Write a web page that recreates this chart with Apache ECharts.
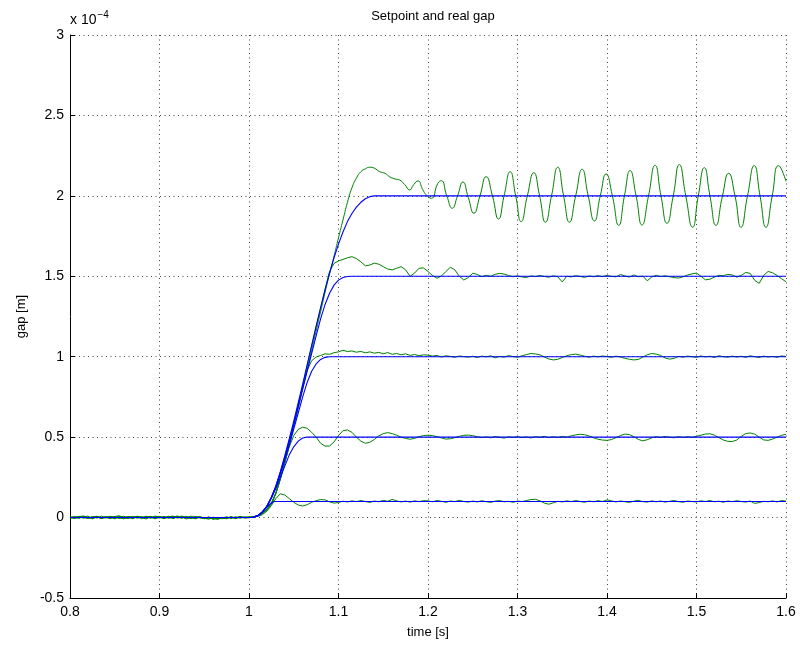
<!DOCTYPE html>
<html>
<head>
<meta charset="utf-8">
<script src="https://cdn.jsdelivr.net/npm/echarts@6/dist/echarts.min.js"></script>
<style>html,body{margin:0;padding:0;background:#fff}#c{width:800px;height:648px}</style>
</head>
<body>
<div id="c"></div>
<script>
// ---- axis settings (values in units of 1e-4 m) ----
const xTicks = [0.8, 0.9, 1.0, 1.1, 1.2, 1.3, 1.4, 1.5, 1.6];
const yTicks = [-0.5, 0, 0.5, 1, 1.5, 2, 2.5, 3];
const titleText = 'Setpoint and real gap';
const xName = 'time [s]';
const yName = 'gap [m]';

// ---- pre-step samples (t = 0.800 .. 0.995, every 0.005 s) ----
const preStart = 0.8, preStep = 0.005;
const g01pre = [0.004,-0.006,0.008,0.002,-0.005,0.006,-0.003,0.009,0.001,-0.007,0.005,0.000,-0.008,0.004,0.007,-0.004,0.002,-0.009,0.006,0.001,-0.003,0.008,-0.005,0.003,0.010,-0.002,0.005,-0.006,0.002,0.007,-0.004,-0.010,0.003,-0.006,0.001,-0.008,0.004,-0.003,0.006,0.000];
const g05pre = [-0.003,0.007,-0.002,0.005,0.009,-0.006,0.003,-0.004,0.006,0.002,-0.008,0.004,0.008,-0.003,0.001,0.006,-0.007,0.003,-0.002,0.009,0.004,-0.005,0.002,0.007,-0.003,0.005,-0.009,0.001,-0.005,0.004,-0.008,0.002,-0.011,-0.004,-0.007,0.003,-0.002,0.005,-0.004,0.002];
const g10pre = [0.006,0.001,-0.005,0.007,-0.002,0.004,0.008,-0.006,0.002,0.005,-0.003,0.009,-0.001,-0.006,0.004,0.002,0.007,-0.004,0.003,-0.008,0.005,0.001,0.008,-0.003,0.004,0.009,0.002,-0.004,0.006,-0.002,0.001,-0.007,-0.003,-0.009,-0.002,0.004,-0.006,0.001,0.003,-0.002];
const g15pre = [-0.005,0.003,0.006,-0.004,0.002,-0.008,0.005,0.001,-0.003,0.008,0.004,-0.006,0.002,0.006,-0.005,0.009,-0.002,0.004,0.007,-0.004,0.002,-0.007,0.005,0.009,0.001,-0.004,0.006,0.003,-0.008,0.002,-0.005,0.003,-0.009,0.001,-0.006,-0.003,0.005,-0.007,0.002,0.004];
const g20pre = [0.002,-0.004,0.005,0.009,-0.003,0.001,0.007,-0.005,0.004,-0.002,0.006,0.010,-0.004,0.003,-0.007,0.005,0.001,0.008,-0.003,0.004,0.007,-0.002,0.003,-0.006,0.006,0.002,-0.003,0.008,0.004,-0.001,-0.006,0.002,-0.004,-0.010,0.001,-0.005,0.003,-0.002,0.005,-0.001];

// ---- transient samples [t, gap] ----
const g01mid = [[1.000,0.001],[1.005,0.004],[1.010,0.008],[1.015,0.018],[1.020,0.040],[1.025,0.075],[1.030,0.118],[1.035,0.148],[1.040,0.140],[1.045,0.118],[1.050,0.095],[1.055,0.078],[1.060,0.072],[1.065,0.080],[1.070,0.095],[1.075,0.105],[1.080,0.112],[1.085,0.110],[1.090,0.098],[1.095,0.090],[1.100,0.094],[1.105,0.102],[1.110,0.097],[1.115,0.104],[1.120,0.099],[1.125,0.106],[1.130,0.100],[1.135,0.094],[1.140,0.103],[1.145,0.098],[1.150,0.107],[1.155,0.101],[1.160,0.113],[1.165,0.104],[1.170,0.097],[1.175,0.103],[1.180,0.096],[1.185,0.104],[1.190,0.099],[1.195,0.105]];
const g05mid = [[1.000,0.002],[1.005,0.006],[1.010,0.012],[1.015,0.027],[1.020,0.050],[1.025,0.088],[1.030,0.150],[1.035,0.240],[1.040,0.345],[1.045,0.440],[1.050,0.510],[1.055,0.548],[1.060,0.562],[1.065,0.555],[1.070,0.530],[1.075,0.500],[1.080,0.462],[1.085,0.444],[1.090,0.445],[1.095,0.470],[1.100,0.510],[1.105,0.540],[1.110,0.545],[1.115,0.530],[1.120,0.500],[1.125,0.475],[1.130,0.462],[1.135,0.468],[1.140,0.485],[1.145,0.508],[1.150,0.522],[1.155,0.528],[1.160,0.522],[1.165,0.512],[1.170,0.500],[1.175,0.492],[1.180,0.487],[1.185,0.492],[1.190,0.503],[1.195,0.510]];
const g10mid = [[1.000,-0.002],[1.005,0.005],[1.010,0.011],[1.015,0.026],[1.020,0.050],[1.025,0.088],[1.030,0.150],[1.035,0.238],[1.040,0.340],[1.045,0.452],[1.050,0.570],[1.055,0.690],[1.060,0.810],[1.065,0.915],[1.070,0.975],[1.075,0.998],[1.080,1.008],[1.085,1.018],[1.090,1.015],[1.095,1.025],[1.100,1.030],[1.105,1.040],[1.110,1.032],[1.115,1.036],[1.120,1.028],[1.125,1.033],[1.130,1.024],[1.135,1.030],[1.140,1.022],[1.145,1.027],[1.150,1.018],[1.155,1.026],[1.160,1.015],[1.165,1.020],[1.170,1.012],[1.175,1.018],[1.180,1.008],[1.185,1.014],[1.190,1.006],[1.195,1.012]];
const g15mid = [[1.000,0.003],[1.005,0.006],[1.010,0.012],[1.015,0.028],[1.020,0.052],[1.025,0.090],[1.030,0.155],[1.035,0.245],[1.040,0.350],[1.045,0.460],[1.050,0.580],[1.055,0.700],[1.060,0.820],[1.065,0.945],[1.070,1.065],[1.075,1.185],[1.080,1.300],[1.085,1.420],[1.090,1.530],[1.095,1.580],[1.100,1.595],[1.105,1.605],[1.110,1.615],[1.115,1.622],[1.120,1.610],[1.125,1.590],[1.130,1.565],[1.135,1.570],[1.140,1.582],[1.145,1.575],[1.150,1.560],[1.155,1.545],[1.160,1.540],[1.165,1.550],[1.170,1.560],[1.175,1.540],[1.180,1.500],[1.185,1.520],[1.190,1.550],[1.195,1.552]];
const g20mid = [[1.000,0.002],[1.005,0.004],[1.010,0.010],[1.015,0.025],[1.020,0.048],[1.025,0.085],[1.030,0.150],[1.035,0.240],[1.040,0.340],[1.045,0.450],[1.050,0.565],[1.055,0.680],[1.060,0.800],[1.065,0.920],[1.070,1.040],[1.075,1.160],[1.080,1.280],[1.085,1.400],[1.090,1.515],[1.095,1.625],[1.100,1.740],[1.105,1.850],[1.110,1.960],[1.115,2.050],[1.120,2.110],[1.125,2.150],[1.130,2.168],[1.135,2.178],[1.140,2.172],[1.146,2.150],[1.152,2.140],[1.157,2.119],[1.163,2.105],[1.168,2.099],[1.174,2.070],[1.1795,2.037],[1.184,2.070],[1.1888,2.093],[1.194,2.040],[1.1981,2.006],[1.2037,1.985],[1.211,2.078],[1.2148,2.094],[1.221,2.000],[1.2271,1.923],[1.233,2.000],[1.239,2.086],[1.245,1.990],[1.2513,1.892],[1.258,2.000],[1.265,2.119],[1.272,2.000],[1.2788,1.856],[1.285,2.000],[1.2918,2.150],[1.298,2.000],[1.3041,1.840],[1.311,2.000],[1.3182,2.144],[1.3247,2.000],[1.3312,1.836],[1.338,2.000],[1.345,2.178],[1.3515,2.000],[1.358,1.836],[1.365,2.000],[1.3722,2.165],[1.379,2.000],[1.3859,1.844],[1.3925,2.000],[1.399,2.136],[1.406,2.000],[1.4131,1.817],[1.4195,2.000],[1.4258,2.157],[1.4325,2.000],[1.4391,1.819],[1.4464,2.000],[1.4537,2.190],[1.4603,2.000],[1.467,1.830],[1.474,2.000],[1.4808,2.194],[1.488,2.000],[1.4956,1.805],[1.502,2.000],[1.5087,2.175],[1.515,2.000],[1.5217,1.817],[1.529,2.000],[1.5359,2.140],[1.543,2.000],[1.5497,1.805],[1.557,2.000],[1.5645,2.188],[1.571,2.000],[1.5776,1.805],[1.5846,2.000],[1.5917,2.188],[1.600,2.090]];

// ---- settled samples (t = 1.200 .. 1.600, every 0.005 s) ----
const postStart = 1.2, postStep = 0.005;
const g01post = [0.104,0.098,0.106,0.101,0.095,0.103,0.099,0.107,0.100,0.096,0.103,0.097,0.105,0.099,0.094,0.102,0.106,0.098,0.101,0.095,0.103,0.099,0.106,0.112,0.114,0.104,0.090,0.083,0.092,0.101,0.097,0.104,0.099,0.106,0.100,0.095,0.103,0.098,0.105,0.100,0.110,0.104,0.097,0.103,0.099,0.094,0.102,0.107,0.099,0.096,0.104,0.098,0.103,0.096,0.101,0.106,0.099,0.095,0.103,0.100,0.097,0.104,0.100,0.106,0.098,0.102,0.095,0.103,0.099,0.105,0.100,0.096,0.103,0.088,0.093,0.101,0.098,0.104,0.097,0.106,0.102];
const g05post = [0.512,0.510,0.503,0.495,0.488,0.490,0.497,0.505,0.511,0.513,0.509,0.503,0.497,0.501,0.496,0.504,0.499,0.494,0.502,0.498,0.503,0.497,0.501,0.495,0.503,0.499,0.505,0.497,0.502,0.498,0.504,0.500,0.508,0.514,0.518,0.515,0.507,0.496,0.487,0.482,0.480,0.485,0.497,0.510,0.519,0.516,0.503,0.486,0.477,0.484,0.496,0.503,0.498,0.504,0.499,0.496,0.503,0.498,0.502,0.499,0.505,0.512,0.519,0.521,0.512,0.497,0.482,0.474,0.473,0.482,0.505,0.522,0.526,0.519,0.500,0.483,0.480,0.488,0.500,0.511,0.518];
const g10post = [1.010,1.004,1.008,0.998,1.006,1.002,0.996,1.005,1.001,0.997,1.003,0.995,1.004,0.999,1.006,0.993,1.002,0.997,1.007,1.001,0.996,1.006,1.013,1.020,1.017,1.012,0.998,0.986,0.980,0.984,0.995,1.006,1.013,1.016,1.010,1.003,0.997,1.004,0.999,1.005,1.001,0.996,1.004,0.998,0.990,0.984,0.980,0.983,0.998,1.012,1.020,1.016,1.008,0.992,0.985,0.990,1.002,0.997,1.004,1.000,0.996,1.005,0.999,1.003,0.995,1.006,1.000,0.997,1.004,0.998,1.003,0.996,1.006,1.000,0.995,1.004,0.998,1.002,0.996,1.005,1.001];
const g15post = [1.530,1.505,1.488,1.502,1.530,1.556,1.540,1.500,1.477,1.492,1.519,1.512,1.498,1.506,1.500,1.512,1.518,1.514,1.505,1.497,1.503,1.496,1.492,1.502,1.498,1.505,1.499,1.494,1.503,1.497,1.465,1.500,1.496,1.504,1.499,1.493,1.502,1.497,1.504,1.498,1.505,1.500,1.496,1.511,1.502,1.495,1.508,1.497,1.501,1.472,1.496,1.506,1.498,1.503,1.497,1.492,1.489,1.497,1.508,1.515,1.520,1.500,1.478,1.482,1.495,1.506,1.504,1.512,1.508,1.495,1.505,1.524,1.518,1.475,1.456,1.505,1.530,1.522,1.505,1.485,1.466];

// ---- setpoints [t, gap] ----
const b01 = [[0.8,0],[1.000,0],[1.005,0.002],[1.010,0.012],[1.015,0.035],[1.020,0.065],[1.024,0.088],[1.028,0.100],[1.6,0.100]];
const b05 = [[0.8,0],[1.000,0],[1.005,0.002],[1.010,0.012],[1.015,0.035],[1.020,0.070],[1.025,0.120],[1.030,0.180],[1.035,0.250],[1.040,0.320],[1.045,0.390],[1.050,0.440],[1.055,0.475],[1.060,0.495],[1.065,0.500],[1.6,0.500]];
const b10 = [[0.8,0],[1.000,0],[1.005,0.002],[1.010,0.012],[1.015,0.035],[1.020,0.070],[1.025,0.125],[1.030,0.190],[1.035,0.270],[1.040,0.360],[1.045,0.450],[1.050,0.550],[1.055,0.650],[1.060,0.750],[1.065,0.840],[1.070,0.910],[1.075,0.955],[1.080,0.983],[1.085,0.996],[1.090,1.000],[1.6,1.000]];
const b15 = [[0.8,0],[1.000,0],[1.005,0.002],[1.010,0.012],[1.015,0.035],[1.020,0.070],[1.025,0.125],[1.030,0.195],[1.035,0.280],[1.040,0.375],[1.045,0.475],[1.050,0.580],[1.055,0.690],[1.060,0.800],[1.065,0.910],[1.070,1.020],[1.075,1.130],[1.080,1.235],[1.085,1.325],[1.090,1.395],[1.095,1.445],[1.100,1.476],[1.105,1.492],[1.110,1.499],[1.115,1.500],[1.6,1.500]];
const b20 = [[0.8,0],[1.000,0],[1.005,0.002],[1.010,0.012],[1.015,0.035],[1.020,0.070],[1.025,0.125],[1.030,0.195],[1.035,0.285],[1.040,0.385],[1.045,0.490],[1.050,0.600],[1.055,0.715],[1.060,0.830],[1.065,0.950],[1.070,1.070],[1.075,1.190],[1.080,1.305],[1.085,1.415],[1.090,1.520],[1.095,1.615],[1.100,1.700],[1.105,1.775],[1.110,1.840],[1.115,1.890],[1.120,1.930],[1.125,1.960],[1.130,1.982],[1.135,1.995],[1.140,2.000],[1.6,2.000]];

// ---- build series data ----
function sampled(start, step, vals) {
  return vals.map((v, i) => [+(start + i * step).toFixed(4), v]);
}
function gapSeries(pre, mid, post) {
  let d = sampled(preStart, preStep, pre).concat(mid);
  if (post) d = d.concat(sampled(postStart, postStep, post));
  return d;
}
const greenData = [
  gapSeries(g01pre, g01mid, g01post),
  gapSeries(g05pre, g05mid, g05post),
  gapSeries(g10pre, g10mid, g10post),
  gapSeries(g15pre, g15mid, g15post),
  gapSeries(g20pre, g20mid, null)
];
const blueData = [b01, b05, b10, b15, b20];

const FONT = 'Liberation Sans, Arial, Helvetica, sans-serif';
const series = [];
greenData.forEach((d, i) => series.push({
  type: 'line', data: d, showSymbol: false, symbol: 'none',
  smooth: i === 4 ? 0.55 : false,
  lineStyle: { color: '#008000', width: 1 }, z: 2, silent: true
}));
blueData.forEach(d => series.push({
  type: 'line', data: d, showSymbol: false, symbol: 'none',
  lineStyle: { color: '#0000ff', width: 1.1 }, z: 3, silent: true
}));

const chart = echarts.init(document.getElementById('c'), null, { renderer: 'canvas' });
chart.setOption({
  animation: false,
  backgroundColor: '#ffffff',
  title: {
    text: titleText, left: 428, top: 5, textAlign: 'center',
    textStyle: { fontFamily: FONT, fontSize: 13, fontWeight: 'normal', color: '#000' }
  },
  grid: { left: 70, right: 14, top: 35, bottom: 50, containLabel: false },
  xAxis: {
    type: 'value', min: xTicks[0], max: xTicks[xTicks.length - 1], interval: 0.1,
    name: xName, nameLocation: 'middle', nameGap: 28,
    nameTextStyle: { fontFamily: FONT, fontSize: 13, color: '#000' },
    axisLine: { show: true, onZero: false, lineStyle: { color: '#000', width: 1 } },
    axisTick: { show: true, inside: true, length: 5, lineStyle: { color: '#000' } },
    axisLabel: { fontFamily: FONT, fontSize: 14, color: '#000', margin: 7 },
    splitLine: { show: true, lineStyle: { color: '#444', width: 1, type: [1, 3.5] } }
  },
  yAxis: {
    type: 'value', min: yTicks[0], max: yTicks[yTicks.length - 1], interval: 0.5,
    name: yName, nameLocation: 'middle', nameGap: 42,
    nameTextStyle: { fontFamily: FONT, fontSize: 13, color: '#000' },
    axisLine: { show: true, onZero: false, lineStyle: { color: '#000', width: 1 } },
    axisTick: { show: true, inside: true, length: 5, lineStyle: { color: '#000' } },
    axisLabel: { fontFamily: FONT, fontSize: 14, color: '#000', margin: 6 },
    splitLine: { show: true, lineStyle: { color: '#444', width: 1, type: [1, 3.5] } }
  },
  graphic: [{
    type: 'text', left: 70, top: 10,
    style: {
      text: '{a|x 10}{b|\u22124}',
      rich: {
        a: { fontFamily: FONT, fontSize: 14, color: '#000', verticalAlign: 'bottom', lineHeight: 17 },
        b: { fontFamily: FONT, fontSize: 10, color: '#000', verticalAlign: 'top', lineHeight: 17, padding: [0, 0, 8, 1] }
      }
    }
  }],
  series: series
});
</script>
</body>
</html>
